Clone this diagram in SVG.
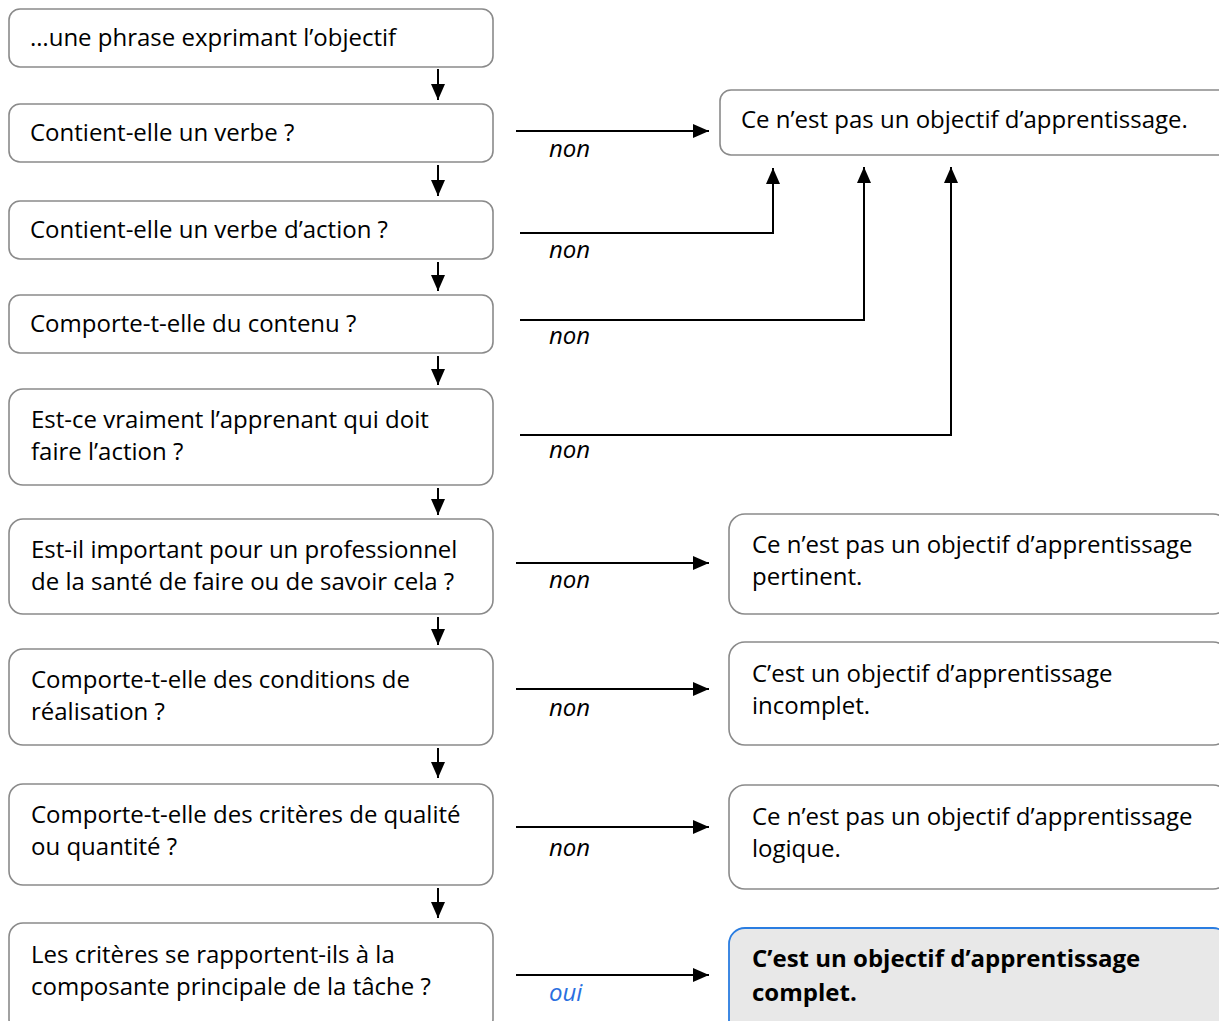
<svg xmlns="http://www.w3.org/2000/svg" width="1219" height="1021" viewBox="0 0 1219 1021">
<defs>
<marker id="ah" markerWidth="16" markerHeight="14" refX="16" refY="7" orient="auto" markerUnits="userSpaceOnUse">
<path d="M0,0 L16,7 L0,14 Z" fill="#000"/>
</marker>
<style>
.box{fill:#fff;stroke:#8a8a8a;stroke-width:1.6}
.fin{fill:#e8e8e8;stroke:#2a7de1;stroke-width:1.8}
.t{font-family:"Open Sans","Noto Sans",sans-serif;font-size:24px;fill:#000}
.b{font-weight:bold}
.lbl{font-family:"Open Sans","Noto Sans",sans-serif;font-size:24px;font-style:italic;fill:#000}
.oui{fill:#2a6fe0}
.c{fill:none;stroke:#000;stroke-width:2}
</style>
</defs>
<g id="connectors">
<line class="c" x1="438" y1="69" x2="438" y2="100" marker-end="url(#ah)"/>
<line class="c" x1="438" y1="165" x2="438" y2="196" marker-end="url(#ah)"/>
<line class="c" x1="438" y1="262" x2="438" y2="291" marker-end="url(#ah)"/>
<line class="c" x1="438" y1="356" x2="438" y2="385" marker-end="url(#ah)"/>
<line class="c" x1="438" y1="488" x2="438" y2="515" marker-end="url(#ah)"/>
<line class="c" x1="438" y1="617" x2="438" y2="645" marker-end="url(#ah)"/>
<line class="c" x1="438" y1="748" x2="438" y2="778" marker-end="url(#ah)"/>
<line class="c" x1="438" y1="888" x2="438" y2="918" marker-end="url(#ah)"/>
<line class="c" x1="516" y1="131" x2="709" y2="131" marker-end="url(#ah)"/>
<polyline class="c" points="520,233 773,233 773,168" marker-end="url(#ah)"/>
<polyline class="c" points="520,320 864,320 864,167" marker-end="url(#ah)"/>
<polyline class="c" points="520,435 951,435 951,167" marker-end="url(#ah)"/>
<line class="c" x1="516" y1="563" x2="709" y2="563" marker-end="url(#ah)"/>
<line class="c" x1="516" y1="689" x2="709" y2="689" marker-end="url(#ah)"/>
<line class="c" x1="516" y1="827" x2="709" y2="827" marker-end="url(#ah)"/>
<line class="c" x1="516" y1="975" x2="709" y2="975" marker-end="url(#ah)"/>
<text class="lbl" x="549" y="157">non</text>
<text class="lbl" x="549" y="258">non</text>
<text class="lbl" x="549" y="344">non</text>
<text class="lbl" x="549" y="458">non</text>
<text class="lbl" x="549" y="588">non</text>
<text class="lbl" x="549" y="716">non</text>
<text class="lbl" x="549" y="856">non</text>
<text class="lbl oui" x="549" y="1001">oui</text>
</g>
<g id="n1"><rect class="box" x="9" y="9" width="484" height="58" rx="11"/><text class="t" x="30" y="46">…une phrase exprimant l’objectif</text></g>
<g id="n2"><rect class="box" x="9" y="104" width="484" height="58" rx="11"/><text class="t" x="30" y="141">Contient-elle un verbe ?</text></g>
<g id="n3"><rect class="box" x="9" y="201" width="484" height="58" rx="11"/><text class="t" x="30" y="238">Contient-elle un verbe d’action ?</text></g>
<g id="n4"><rect class="box" x="9" y="295" width="484" height="58" rx="11"/><text class="t" x="30" y="332">Comporte-t-elle du contenu ?</text></g>
<g id="n5"><rect class="box" x="9" y="389" width="484" height="96" rx="14"/><text class="t" x="31" y="428">Est-ce vraiment l’apprenant qui doit</text><text class="t" x="31" y="460">faire l’action ?</text></g>
<g id="n6"><rect class="box" x="9" y="519" width="484" height="95" rx="14"/><text class="t" x="31" y="558">Est-il important pour un professionnel</text><text class="t" x="31" y="590">de la santé de faire ou de savoir cela ?</text></g>
<g id="n7"><rect class="box" x="9" y="649" width="484" height="96" rx="14"/><text class="t" x="31" y="688">Comporte-t-elle des conditions de</text><text class="t" x="31" y="720">réalisation ?</text></g>
<g id="n8"><rect class="box" x="9" y="784" width="484" height="101" rx="14"/><text class="t" x="31" y="823">Comporte-t-elle des critères de qualité</text><text class="t" x="31" y="855">ou quantité ?</text></g>
<g id="n9"><rect class="box" x="9" y="923" width="484" height="110" rx="14"/><text class="t" x="31" y="963">Les critères se rapportent-ils à la</text><text class="t" x="31" y="995">composante principale de la tâche ?</text></g>
<g id="r1"><rect class="box" x="720" y="90" width="510" height="65" rx="11"/><text class="t" x="741" y="128">Ce n’est pas un objectif d’apprentissage.</text></g>
<g id="r2"><rect class="box" x="729" y="514" width="500" height="100" rx="16"/><text class="t" x="752" y="553">Ce n’est pas un objectif d’apprentissage</text><text class="t" x="752" y="585">pertinent.</text></g>
<g id="r3"><rect class="box" x="729" y="642" width="500" height="103" rx="16"/><text class="t" x="752" y="682">C’est un objectif d’apprentissage</text><text class="t" x="752" y="714">incomplet.</text></g>
<g id="r4"><rect class="box" x="729" y="785" width="500" height="104" rx="16"/><text class="t" x="752" y="825">Ce n’est pas un objectif d’apprentissage</text><text class="t" x="752" y="857">logique.</text></g>
<g id="r5"><rect class="fin" x="729" y="928" width="500" height="110" rx="16"/><text class="t b" x="752" y="967">C’est un objectif d’apprentissage</text><text class="t b" x="752" y="1001">complet.</text></g>
</svg>
